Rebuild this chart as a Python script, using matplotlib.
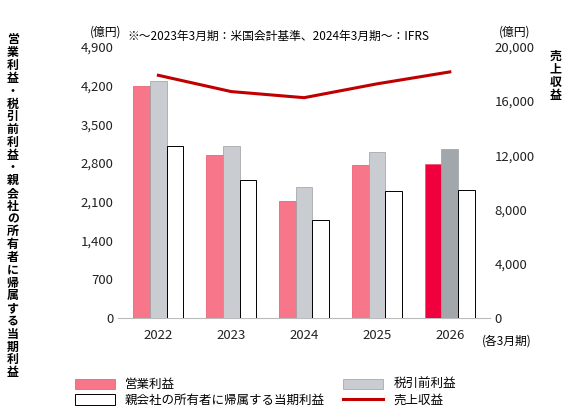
import matplotlib
matplotlib.use("Agg")
import matplotlib.pyplot as plt
import numpy as np

plt.rcParams['font.family'] = ['Noto Sans CJK JP', 'DejaVu Sans']

years = ["2022", "2023", "2024", "2025", "2026"]
op_profit = [4190, 2950, 2120, 2770, 2790]
pretax = [4290, 3110, 2370, 3000, 3060]
net_income = [3110, 2500, 1780, 2300, 2320]
revenue = [17900, 16700, 16250, 17270, 18150]

op_colors = ['#F7768A'] * 4 + ['#F0003C']
pt_colors = ['#C9CDD1'] * 4 + ['#A2A7AC']

fig = plt.figure(figsize=(5.77, 4.18), dpi=100)
ax = fig.add_axes([0.205, 0.239, 0.644, 0.649])
ax2 = ax.twinx()

x = np.arange(len(years))
w = 0.23
ax.bar(x - w, op_profit, w, color=op_colors, edgecolor='#E8506A', linewidth=0.5, label='営業利益', zorder=3)
ax.bar(x, pretax, w, color=pt_colors, edgecolor='#9A9EA2', linewidth=0.5, label='税引前利益', zorder=3)
ax.bar(x + w, net_income, w, color='white', edgecolor='black', linewidth=0.7,
       label='親会社の所有者に帰属する当期利益', zorder=3)
ax2.plot(x, revenue, color='#C00000', linewidth=2.2, label='売上収益')

ax.set_ylim(0, 4900)
ax.set_yticks(np.arange(0, 4901, 700))
ax.set_yticklabels([f"{v:,}" for v in range(0, 4901, 700)])
ax2.set_ylim(0, 20000)
ax2.set_yticks(np.arange(0, 20001, 4000))
ax2.set_yticklabels([f"{v:,}" for v in range(0, 20001, 4000)])
ax.set_xticks(x)
ax.set_xticklabels(years)
ax.set_xlim(-0.55, 4.55)

for a in (ax, ax2):
    for s in a.spines.values():
        s.set_visible(False)
    a.tick_params(length=0, labelsize=9.5, colors='#222222')
ax.tick_params(axis='x', pad=8)
ax.spines['bottom'].set_visible(True)
ax.spines['bottom'].set_color('#BBBBBB')

fig.text(0.155, 0.915, '(億円)', fontsize=8.5)
fig.text(0.865, 0.915, '(億円)', fontsize=8.5)
fig.text(0.22, 0.905, '※～2023年3月期：米国会計基準、2024年3月期～：IFRS', fontsize=8.5)
fig.text(0.835, 0.175, '(各3月期)', fontsize=8.5)
fig.text(0.022, 0.92, '\n'.join('営業利益・税引前利益・親会社の所有者に帰属する当期利益'),
         fontsize=8.6, fontweight='bold', va='top', ha='center', linespacing=0.98)
fig.text(0.963, 0.88, '\n'.join('売上収益'), fontsize=8.6, fontweight='bold',
         va='top', ha='center', linespacing=0.98)

h1, l1 = ax.get_legend_handles_labels()
h2, l2 = ax2.get_legend_handles_labels()
handles = [h1[0], h1[2], h1[1], h2[0]]
labels = [l1[0], l1[2], l1[1], l2[0]]
fig.legend(handles, labels, loc='lower left', bbox_to_anchor=(0.11, 0.0), ncol=2,
           frameon=False, fontsize=9, columnspacing=1.5, handlelength=3.2,
           handleheight=0.9, labelspacing=0.2)

fig.savefig('out.png', dpi=100)
